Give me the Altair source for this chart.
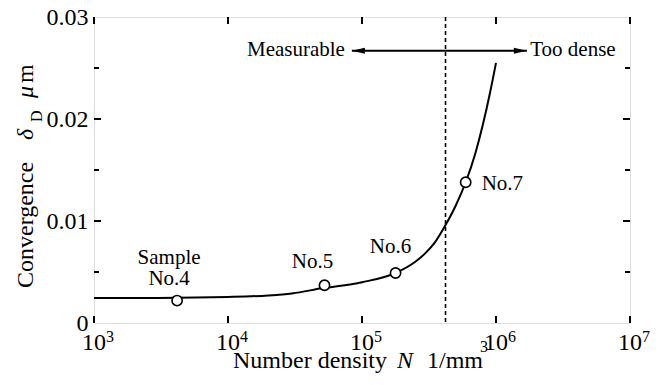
import altair as alt
import pandas as pd

# ---- data ----
curve_n = [1e3, 3e3, 1e4, 2e4, 3e4, 5e4, 1e5, 1.78e5, 2.5e5, 3e5, 3.5e5, 4.2e5, 5e5, 5.94e5, 7e5, 8e5, 9e5, 1e6]
curve_d = [0.00245, 0.00246, 0.00255, 0.0027, 0.0029, 0.0034, 0.0040, 0.0049, 0.0060, 0.0069, 0.0079, 0.0096, 0.0115, 0.0138, 0.0166, 0.0195, 0.0225, 0.0255]

sample_n = [4170, 52500, 178000, 594000]
sample_d = [0.0022, 0.0037, 0.0049, 0.0138]
sample_lbl = ["No.4", "No.5", "No.6", "No.7"]

limit_n = [4.2e5]
arrow_left_n = [84000]
arrow_right_n = [1.70e6]
arrow_d = [0.0267]
text_measurable_n = [74600]
text_dense_n = [1.8e6]

decades = [1e3, 1e4, 1e5, 1e6, 1e7]
decade_exp = ["3", "4", "5", "6", "7"]
y_major = [0.01, 0.02]
y_minor = [0.005, 0.015, 0.025]
y_labels = [0, 0.01, 0.02, 0.03]

W, H = 536, 306
FONT = "'Liberation Serif', 'Times New Roman', Times, serif"

xs = alt.Scale(type="log", domain=[1e3, 1e7])
ys = alt.Scale(domain=[0, 0.03])

curve_df = pd.DataFrame({"N": curve_n, "d": curve_d})
pts_df = pd.DataFrame({"N": sample_n, "d": sample_d, "lbl": sample_lbl})
dec_df = pd.DataFrame({"N": decades, "e": decade_exp})
ymaj_df = pd.DataFrame({"d": y_major})
ymin_df = pd.DataFrame({"d": y_minor})

X = alt.X("N:Q", scale=xs, axis=None)
Y = alt.Y("d:Q", scale=ys, axis=alt.Axis(values=y_labels, ticks=False, tickSize=0, domain=False, grid=False,
                                         labelFont=FONT, labelFontSize=24, labelColor="black", labelPadding=6,
                                         labelExpr="datum.value == 0 ? '0' : format(datum.value, '.2f')", title=None))

base_curve = alt.Chart(curve_df)
line = base_curve.mark_line(color="black", strokeWidth=2, interpolate="monotone").encode(x=X, y=Y)

pts = alt.Chart(pts_df)
circles = pts.mark_point(shape="circle", filled=True, fill="white", stroke="black", strokeWidth=1.6,
                         size=105, opacity=1).encode(x=X, y=Y)

def lbl(name, dx, dy, align="center", baseline="alphabetic", text=None):
    return pts.transform_filter(alt.datum.lbl == name).mark_text(
        font=FONT, fontSize=21, color="black", dx=dx, dy=dy, align=align, baseline=baseline
    ).encode(x=X, y=Y, text=alt.value(text) if text else alt.Text("lbl:N"))

labels = [
    lbl("No.4", -8, -37, text="Sample"),
    lbl("No.4", -8, -16),
    lbl("No.5", -12, -17),
    lbl("No.6", -5, -20),
    lbl("No.7", 16, 1.5, align="left", baseline="middle"),
]

limit = alt.Chart(pd.DataFrame({"N": limit_n})).mark_rule(color="black", strokeWidth=1.6, strokeDash=[4, 3]).encode(
    x=X, y=alt.value(0), y2=alt.value(H))

arr_df = pd.DataFrame({"N": arrow_left_n, "N2": arrow_right_n, "d": arrow_d,
                       "tm": text_measurable_n, "td": text_dense_n})
arr = alt.Chart(arr_df)
arrow_line = arr.mark_rule(color="black", strokeWidth=2).encode(x=X, x2="N2:Q", y=Y)
head_l = arr.mark_point(shape="M0,0L1,-0.23L1,0.23Z", filled=True, fill="black", stroke=None, size=676, opacity=1).encode(x=X, y=Y)
head_r = arr.mark_point(shape="M0,0L-1,-0.23L-1,0.23Z", filled=True, fill="black", stroke=None, size=676, opacity=1).encode(
    x=alt.X("N2:Q", scale=xs, axis=None), y=Y)
t_meas = arr.mark_text(font=FONT, fontSize=21, color="black", align="right", baseline="middle", dy=-1).encode(
    x=alt.X("tm:Q", scale=xs, axis=None), y=Y, text=alt.value("Measurable"))
t_dense = arr.mark_text(font=FONT, fontSize=21, color="black", align="left", baseline="middle", dy=-1).encode(
    x=alt.X("td:Q", scale=xs, axis=None), y=Y, text=alt.value("Too dense"))

# inward ticks
dec = alt.Chart(dec_df)
xt_bot = dec.mark_rule(color="black", strokeWidth=2).encode(x=X, y=alt.value(H), y2=alt.value(H - 7))
xt_top = dec.mark_rule(color="black", strokeWidth=2).encode(x=X, y=alt.value(0), y2=alt.value(7))
ymaj = alt.Chart(ymaj_df)
ymin = alt.Chart(ymin_df)
yt = [
    ymaj.mark_rule(color="black", strokeWidth=2).encode(y=Y, x=alt.value(0), x2=alt.value(7)),
    ymaj.mark_rule(color="black", strokeWidth=2).encode(y=Y, x=alt.value(W), x2=alt.value(W - 7)),
    ymin.mark_rule(color="black", strokeWidth=2).encode(y=Y, x=alt.value(0), x2=alt.value(5)),
    ymin.mark_rule(color="black", strokeWidth=2).encode(y=Y, x=alt.value(W), x2=alt.value(W - 5)),
]

# x tick labels 10^n
ten = dec.mark_text(font=FONT, fontSize=24, color="black", align="center", baseline="alphabetic").encode(
    x=X, y=alt.value(H + 27), text=alt.value("10"))
sup = dec.mark_text(font=FONT, fontSize=16, color="black", align="left", baseline="alphabetic", dx=12).encode(
    x=X, y=alt.value(H + 19), text="e:N")

# axis titles built from pieces (italic symbol, subscript, superscript)
def txt(s, x, y, size=24, style="normal", angle=0):
    kw = dict(font=FONT, fontSize=size, color="black", align="left", baseline="alphabetic", fontStyle=style)
    if angle:
        kw["angle"] = angle
    return alt.Chart(curve_df.head(1)).mark_text(**kw).encode(x=alt.value(x), y=alt.value(y), text=alt.value(s))

titles = [
    txt("Number density", 139, 351),
    txt("N", 303, 351, style="italic"),
    txt("1/mm", 333, 351),
    txt("3", 386, 335, size=16),
    txt("Convergence", -61, 271, angle=270),
    txt("δ", -61, 123, style="italic", angle=270),
    txt("D", -52, 105, size=16, angle=270),
    txt("μ", -61, 81, style="italic", angle=270),
    txt("m", -61, 66, angle=270),
]

chart = alt.layer(
    limit, line, circles, arrow_line, head_l, head_r, t_meas, t_dense,
    xt_bot, xt_top, *yt, ten, sup, *labels, *titles
).properties(
    width=W, height=H,
    autosize=alt.AutoSizeParams(type="none"),
    padding={"left": 86, "top": 9, "right": 27, "bottom": 54},
    background="white",
).configure_view(stroke="black", strokeWidth=2).configure(font=FONT)

chart.save("out.html", embed_options={"renderer": "svg", "actions": False})
